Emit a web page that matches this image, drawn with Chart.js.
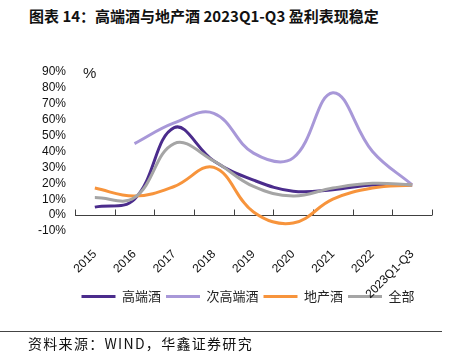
<!DOCTYPE html>
<html>
<head>
<meta charset="utf-8">
<script src="https://cdn.jsdelivr.net/npm/chart.js@4.4.1/dist/chart.umd.min.js"></script>
<style>
  html, body { margin: 0; padding: 0; background: #fff; }
  body { width: 455px; height: 355px; position: relative; overflow: hidden; }
  #title { position: absolute; left: 29px; top: 5px; font: bold 15px "Noto Sans CJK SC", sans-serif; color: #111; white-space: nowrap; }
  #src { position: absolute; left: 28px; top: 333px; font: 14px "Noto Sans CJK SC", sans-serif; color: #111; white-space: nowrap; letter-spacing: 1.3px; }
  #rule { position: absolute; left: 0; top: 331px; width: 442px; height: 1px; background: #444; }
  #wrap { position: absolute; left: 0; top: 0; width: 455px; height: 355px; }
</style>
</head>
<body>
<div id="title">图表 14：高端酒与地产酒 2023Q1-Q3 盈利表现稳定</div>
<div id="wrap"><canvas id="c"></canvas></div>
<div id="rule"></div>
<div id="src">资料来源：WIND，华鑫证券研究</div>
<script>
const categories = ["2015", "2016", "2017", "2018", "2019", "2020", "2021", "2022", "2023Q1-Q3"];
const seriesNames = ["高端酒", "次高端酒", "地产酒", "全部"];
const highEnd    = [5, 10, 55, 34, 22, 15, 16, 19, 19];
const subHighEnd = [null, 45, 58, 64, 39, 36, 77, 40, 19];
const regional   = [17, 12, 18, 30, 2, -5, 10, 17, 19];
const overall    = [11, 11, 45, 34, 18, 12, 17, 20, 19];
const yMin = -10, yMax = 90, yStep = 10;
const colors = ["#4B2C8C", "#A898D8", "#F7943C", "#A5A5A5"];

const zeroAxis = {
  id: 'zeroAxis',
  afterLayout(chart) {
    const lg = chart.legend;
    if (lg) { lg.left += 17; lg.right += 17; }
    // let rotated category labels extend over the legend area (not clipped)
    chart.scales.x.bottom = chart.height;
  },
  beforeDatasetsDraw(chart) {
    const x = chart.scales.x, y = chart.scales.y, ctx = chart.ctx;
    const y0 = Math.round(y.getPixelForValue(0)) + 0.5;
    ctx.save();
    ctx.strokeStyle = '#404040';
    ctx.lineWidth = 1;
    ctx.beginPath();
    ctx.moveTo(chart.chartArea.left, y0);
    ctx.lineTo(chart.chartArea.right, y0);
    for (let i = 0; i <= categories.length; i++) {
      const px = Math.round(x.getPixelForValue(i - 0.5)) + 0.5;
      ctx.moveTo(px, y0);
      ctx.lineTo(px, y0 - 6);
    }
    ctx.stroke();
    ctx.fillStyle = '#222';
    ctx.font = '15px "Liberation Sans", Arial, sans-serif';
    ctx.textAlign = 'left';
    ctx.textBaseline = 'middle';
    ctx.fillText('%', chart.chartArea.left + 8, y.getPixelForValue(yMax) + 2);
    ctx.restore();
  }
};

const seriesData = [highEnd, subHighEnd, regional, overall];
new Chart(document.getElementById('c'), {
  type: 'line',
  data: {
    labels: categories,
    datasets: seriesNames.map((n, i) => ({
      label: n,
      data: seriesData[i],
      borderColor: colors[i],
      backgroundColor: colors[i],
      borderWidth: 3,
      pointRadius: 0,
      tension: 0.4,
      spanGaps: false,
      order: 3 - i
    }))
  },
  options: {
    responsive: true,
    maintainAspectRatio: false,
    animation: false,
    layout: { padding: { left: 30, right: 23, top: 72, bottom: 42 } },
    plugins: {
      legend: {
        position: 'bottom',
        labels: {
          usePointStyle: true,
          pointStyle: 'line',
          pointStyleWidth: 34,
          padding: 5,
          color: '#222',
          font: { size: 13, family: '"Noto Sans CJK SC", sans-serif' },
          sort: (a, b) => a.datasetIndex - b.datasetIndex
        }
      },
      tooltip: { enabled: false }
    },
    scales: {
      x: {
        offset: true,
        grid: { display: false, drawTicks: false },
        border: { display: false },
        ticks: {
          minRotation: 45, maxRotation: 45, padding: 16, autoSkip: false,
          color: '#111',
          font: { size: 12, family: '"Liberation Sans", Arial, sans-serif' }
        },
        afterFit(s) { s.height = 54; }
      },
      y: {
        min: yMin, max: yMax,
        grid: { display: false, drawTicks: false },
        border: { display: false },
        ticks: {
          stepSize: yStep, padding: 9, autoSkip: false,
          color: '#111',
          font: { size: 12, family: '"Liberation Sans", Arial, sans-serif' },
          callback: v => v + '%'
        },
        afterFit(s) { s.width = 45; }
      }
    }
  },
  plugins: [zeroAxis]
});
</script>
</body>
</html>
